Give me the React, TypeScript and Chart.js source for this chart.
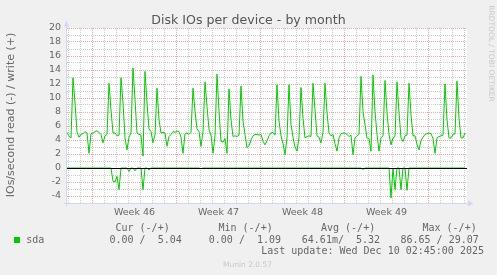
import React, { useEffect, useRef } from 'react';
import { Chart, registerables } from 'chart.js';

Chart.register(...registerables);

const TITLE = 'Disk IOs per device - by month';
const Y_TITLE = 'IOs/second read (-) / write (+)';
const SERIES_NAME = 'sda';
const LEGEND_HEADERS = ['Cur (-/+)', 'Min (-/+)', 'Avg (-/+)', 'Max (-/+)'];
const LEGEND_VALUES = ['0.00 /  5.04', '0.00 /  1.09', '64.61m/  5.32', '86.65 / 29.07'];
const LAST_UPDATE = 'Last update: Wed Dec 10 02:45:00 2025';
const VERSION = 'Munin 2.0.57';
const WATERMARK = 'RRDTOOL / TOBI OETIKER';

// time axis in hours from the left edge of the graph
const SAMPLE_HOURS = 4;
const X_SPAN_HOURS = 800;
const FIRST_MIDNIGHT_HOURS = 3;
const WEEK_START_HOURS = [51, 219, 387, 555, 723];
const WEEK_LABELS = ['Week 46', 'Week 47', 'Week 48', 'Week 49'];

const Y_MIN = -5;
const Y_MAX = 20;
const Y_TICK_VALUES = [-5, -4, -3, -2, -1, 0, 1, 2, 3, 4, 5, 6, 7, 8, 9, 10, 11, 12, 13, 14, 15, 16, 17, 18, 19, 20];

// write (+) IOs/second
const writeVals = [
  5.1, 4.6, 4.3, 12.9, 9.3, 5.2, 4.4, 4.8, 4.9, 5.2,
  5.0, 2.1, 4.9, 5.0, 5.2, 5.3, 5.1, 4.8, 3.6, 4.6,
  4.8, 12.1, 8.3, 5.0, 5.0, 4.6, 4.7, 12.9, 9.3, 4.3,
  2.6, 4.4, 5.0, 14.3, 9.8, 5.0, 4.8, 4.7, 1.7, 13.8,
  9.3, 5.6, 5.2, 3.6, 4.8, 11.4, 6.9, 5.0, 5.1, 5.0,
  3.1, 4.5, 4.8, 5.2, 5.1, 5.3, 5.2, 4.4, 2.1, 4.9,
  5.0, 4.8, 5.1, 11.4, 8.1, 5.6, 5.2, 3.1, 5.2, 12.3,
  8.8, 5.5, 4.7, 2.1, 4.6, 13.4, 8.1, 3.8, 3.7, 4.2,
  2.1, 11.3, 6.9, 4.5, 4.6, 4.5, 4.7, 11.7, 6.7, 4.8,
  2.9, 3.2, 4.0, 4.6, 4.8, 4.8, 4.7, 4.8, 3.8, 3.3,
  3.9, 4.6, 5.0, 5.1, 4.7, 11.9, 6.7, 4.6, 3.5, 1.9,
  4.3, 11.9, 6.2, 4.4, 3.0, 2.4, 4.4, 11.5, 7.1, 4.3,
  4.5, 4.6, 4.5, 12.1, 8.3, 4.6, 4.4, 3.6, 5.1, 12.1,
  7.9, 5.0, 4.6, 4.8, 3.5, 2.4, 4.3, 4.9, 5.0, 5.0,
  4.8, 4.5, 4.7, 1.9, 4.3, 4.6, 4.8, 13.1, 8.1, 6.2,
  4.3, 4.2, 2.4, 13.3, 8.1, 4.8, 2.4, 4.3, 4.6, 12.5,
  7.9, 4.8, 3.3, 4.3, 4.5, 12.3, 7.9, 4.3, 3.8, 4.6,
  4.7, 12.1, 7.6, 4.6, 4.6, 3.4, 2.6, 3.9, 4.4, 4.8,
  4.9, 5.0, 4.9, 4.2, 2.1, 4.3, 4.5, 4.6, 4.7, 12.0,
  6.9, 4.3, 4.3, 4.8, 4.9, 12.4, 7.1, 4.3, 4.3, 5.0,
];

// read (-) IOs/second, drawn below zero
const readVals = [
  0, 0, 0, 0, 0, 0, 0, 0, 0, 0,
  0, 0, 0, 0, 0, 0, 0, 0, 0, 0,
  0, 0, 0, -1.9, -2.0, -1.2, -3.1, 0, 0, 0,
  0, -0.5, 0, 0, -0.4, 0, 0, 0, -3.1, 0,
  0, -0.3, 0, 0, 0, 0, 0, 0, 0, 0,
  0, 0, 0, 0, 0, 0, 0, 0, 0, 0,
  0, 0, 0, 0, 0, 0, 0, -0.1, 0, 0,
  0, 0, 0, 0, 0, 0, 0, 0, 0, 0,
  0, 0, 0, 0, 0, 0, 0, 0, 0, 0,
  0, 0, 0, 0, 0, 0, 0, 0, 0, 0,
  0, 0, 0, 0, 0, 0, 0, 0, 0, 0,
  0, 0, 0, 0, 0, 0, 0, 0, 0, 0,
  0, 0, 0, 0, 0, 0, 0, 0, 0, 0,
  0, 0, 0, 0, 0, 0, 0, 0, 0, 0,
  0, 0, 0, 0, 0, 0, 0, 0, -0.2, 0,
  0, 0, 0, 0, 0, 0, 0, 0, 0, 0,
  0, 0, -4.3, 0, -3.1, 0, 0, -3.1, 0, 0,
  -3.2, 0, 0, 0, 0, 0, 0, 0, 0, 0,
  0, 0, 0, 0, 0, 0, 0, 0, 0, 0,
  0, 0, 0, 0, 0, 0, 0, 0, 0, 0,
];

const GREEN = '#00CC00';
const FONT_COLOR = '#666666';
const AXIS_COLOR = '#CFD6F8';
const MINOR_GRID = 'rgba(143,143,143,0.45)';
const MAJOR_GRID = 'rgba(224,80,80,0.5)';
const SANS = '"DejaVu Sans", sans-serif';
const MONO = '"DejaVu Sans Mono", monospace';

const muninPlugin = {
  id: 'muninDecor',
  beforeDraw(chart: any) {
    const { ctx, chartArea: a } = chart;
    ctx.save();
    ctx.fillStyle = '#F0F0F0';
    ctx.fillRect(0, 0, chart.width, chart.height);
    ctx.fillStyle = '#FFFFFF';
    ctx.fillRect(a.left, a.top, a.right - a.left, a.bottom - a.top);
    ctx.restore();
  },
  afterDatasetsDraw(chart: any) {
    const { ctx, chartArea: a, scales } = chart;
    const y0 = Math.floor(scales.y.getPixelForValue(0)) + 0.5;
    ctx.save();
    // zero line
    ctx.strokeStyle = '#000000';
    ctx.lineWidth = 1;
    ctx.beginPath();
    ctx.moveTo(a.left, y0);
    ctx.lineTo(a.right, y0);
    ctx.stroke();
    // axes with arrows
    const ax = a.left - 0.5;
    const ay = Math.floor(a.bottom) + 0.5;
    ctx.strokeStyle = AXIS_COLOR;
    ctx.fillStyle = AXIS_COLOR;
    ctx.beginPath();
    ctx.moveTo(ax, ay + 3);
    ctx.lineTo(ax, a.top - 4);
    ctx.moveTo(ax - 3, ay);
    ctx.lineTo(a.right + 2, ay);
    ctx.stroke();
    ctx.beginPath();
    ctx.moveTo(ax - 2.5, a.top - 1.5);
    ctx.lineTo(ax + 2.5, a.top - 1.5);
    ctx.lineTo(ax, a.top - 7.5);
    ctx.closePath();
    ctx.fill();
    ctx.beginPath();
    ctx.moveTo(a.right + 1, ay - 3);
    ctx.lineTo(a.right + 1, ay + 3);
    ctx.lineTo(a.right + 6.5, ay);
    ctx.closePath();
    ctx.fill();

    // title
    ctx.fillStyle = '#555555';
    ctx.font = `12.6px ${SANS}`;
    ctx.textAlign = 'center';
    ctx.textBaseline = 'alphabetic';
    ctx.fillText(TITLE, 248.5, 24);

    // y title
    ctx.save();
    ctx.translate(11, 115);
    ctx.rotate(-Math.PI / 2);
    ctx.font = `11px ${SANS}`;
    ctx.fillStyle = FONT_COLOR;
    ctx.textAlign = 'center';
    ctx.textBaseline = 'middle';
    ctx.fillText(Y_TITLE, 0, 0);
    ctx.restore();

    // watermark
    ctx.save();
    ctx.translate(491, 53.5);
    ctx.rotate(Math.PI / 2);
    ctx.font = `7.5px ${SANS}`;
    ctx.fillStyle = '#C8C8C8';
    ctx.textAlign = 'center';
    ctx.textBaseline = 'middle';
    ctx.fillText(WATERMARK, 0, 0);
    ctx.restore();

    // legend
    ctx.font = `10px ${MONO}`;
    ctx.fillStyle = FONT_COLOR;
    ctx.textAlign = 'left';
    ctx.textBaseline = 'alphabetic';
    const headerX = [115.5, 218.5, 321, 422.5];
    const valueX = [109.5, 208.8, 301.8, 400.5];
    LEGEND_HEADERS.forEach((h, i) => ctx.fillText(h, headerX[i], 230.8));
    LEGEND_VALUES.forEach((v, i) => ctx.fillText(v, valueX[i], 242.8));
    ctx.fillText(SERIES_NAME, 26.2, 242.8);
    ctx.fillText(LAST_UPDATE, 261.2, 254.3);
    ctx.fillStyle = GREEN;
    ctx.fillRect(14, 237, 6, 6);

    // version
    ctx.font = `7.5px ${SANS}`;
    ctx.fillStyle = '#C8C8C8';
    ctx.textAlign = 'center';
    ctx.fillText(VERSION, 247.5, 267);
    ctx.restore();
  },
};

export default function App() {
  const ref = useRef<HTMLCanvasElement>(null);
  useEffect(() => {
    const canvas = ref.current;
    if (!canvas) return;
    const toPoints = (vals: number[]) => vals.map((v, i) => ({ x: i * SAMPLE_HOURS, y: v }));
    const chart = new Chart(canvas, {
      type: 'line',
      data: {
        datasets: [
          {
            label: SERIES_NAME + ' write',
            data: toPoints(writeVals),
            borderColor: GREEN,
            borderWidth: 1,
            pointRadius: 0,
            fill: false,
            tension: 0,
          },
          {
            label: SERIES_NAME + ' read',
            data: toPoints(readVals),
            borderColor: GREEN,
            borderWidth: 1,
            pointRadius: 0,
            fill: false,
            tension: 0,
          },
        ],
      },
      options: {
        animation: false,
        responsive: false,
        devicePixelRatio: 1,
        events: [],
        layout: { padding: { left: 0, top: 28, right: 30, bottom: 0 } },
        plugins: {
          legend: { display: false },
          title: { display: false },
          tooltip: { enabled: false },
        },
        scales: {
          x: {
            type: 'linear',
            min: 0,
            max: X_SPAN_HOURS,
            afterBuildTicks: (scale: any) => {
              const ticks: any[] = [];
              for (let h = FIRST_MIDNIGHT_HOURS; h <= X_SPAN_HOURS; h += 24) {
                ticks.push({ value: h });
              }
              WEEK_LABELS.forEach((lab, i) => {
                const mid = (WEEK_START_HOURS[i] + WEEK_START_HOURS[i + 1]) / 2;
                ticks.push({ value: mid, wk: lab });
              });
              ticks.sort((p, q) => p.value - q.value);
              scale.ticks = ticks;
            },
            afterFit: (scale: any) => {
              scale.height = 72;
            },
            grid: {
              drawTicks: false,
              lineWidth: 1,
              color: (c: any) => {
                const t = c.tick;
                if (!t || t.wk) return 'rgba(0,0,0,0)';
                return WEEK_START_HOURS.includes(t.value) ? MAJOR_GRID : MINOR_GRID;
              },
            },
            border: { display: false, dash: [1, 1] },
            ticks: {
              autoSkip: false,
              maxRotation: 0,
              minRotation: 0,
              padding: 4,
              color: FONT_COLOR,
              font: { family: SANS, size: 9.5 },
              callback: (_v: any, i: number, ticks: any[]) => ticks[i].wk || '',
            },
          },
          y: {
            type: 'linear',
            min: Y_MIN,
            max: Y_MAX,
            afterBuildTicks: (scale: any) => {
              scale.ticks = Y_TICK_VALUES.map((v) => ({ value: v }));
            },
            afterFit: (scale: any) => {
              scale.width = 67;
            },
            grid: {
              drawTicks: false,
              lineWidth: 1,
              color: (c: any) => {
                const t = c.tick;
                if (!t) return 'rgba(0,0,0,0)';
                return Math.abs(t.value) % 2 === 0 ? MAJOR_GRID : MINOR_GRID;
              },
            },
            border: { display: false, dash: [1, 1] },
            ticks: {
              autoSkip: false,
              padding: 6,
              color: FONT_COLOR,
              font: { family: SANS, size: 9.5 },
              callback: (v: any) => (Math.abs(Number(v)) % 2 === 0 ? String(v) : ''),
            },
          },
        },
      },
      plugins: [muninPlugin],
    } as any);
    return () => chart.destroy();
  }, []);
  return (
    <div style={{ position: 'fixed', left: 0, top: 0, width: 497, height: 275, background: '#F0F0F0' }}>
      <canvas ref={ref} width={497} height={275} style={{ display: 'block' }} />
    </div>
  );
}
